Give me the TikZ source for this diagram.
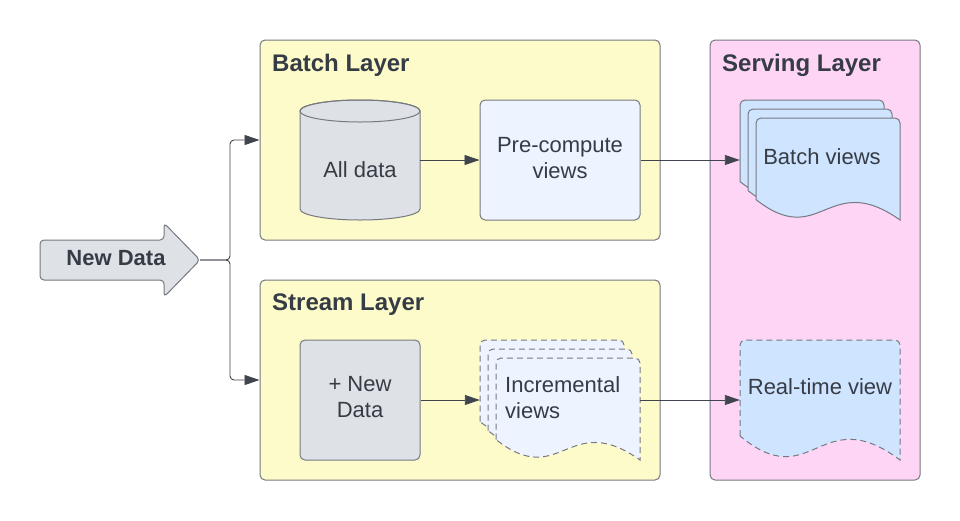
\documentclass[tikz,border=0pt]{standalone}
\usepackage{fontspec}
\setmainfont{Liberation Sans}
\usetikzlibrary{arrows.meta}

\definecolor{textdark}{HTML}{363C45}
\definecolor{linegray}{HTML}{767980}
\definecolor{wiregray}{HTML}{40454D}
\definecolor{layeryellow}{HTML}{FEFBCB}
\definecolor{layerpink}{HTML}{FFD5F6}
\definecolor{shapegray}{HTML}{DEE2E7}
\definecolor{paleblue}{HTML}{EDF4FF}
\definecolor{viewblue}{HTML}{CFE4FF}

\tikzset{
  layer/.style={draw=linegray, line width=1pt, rounded corners=5pt, inner sep=0pt},
  layertitle/.style={anchor=west, inner sep=0pt, text=textdark, font=\bfseries\fontsize{24}{28}\selectfont},
  boxtext/.style={inner sep=0pt, align=center, text=textdark, font=\fontsize{22}{26}\selectfont},
  frame/.style={inner sep=0pt, minimum width=#1},
  link/.style={draw=wiregray, line width=0.9pt, rounded corners=4pt, -{Triangle[length=15pt,width=10pt]}},
  docsolid/.style={draw=linegray, line width=1pt, fill=viewblue},
  docdash/.style={draw=linegray, line width=1pt, dash pattern=on 6pt off 4pt},
}

% document page: style, x, y, width, height (top left corner)
\newcommand{\docpage}[5]{%
  \draw[#1] (#2,#3+0.8*#5) -- (#2,#3+5) arc[start angle=180, end angle=270, radius=5]
    -- (#2+#4-5,#3) arc[start angle=270, end angle=360, radius=5]
    -- (#2+#4,#3+#5) .. controls (#2+0.5*#4,#3+0.5*#5) and (#2+0.45*#4,#3+1.3*#5) .. (#2,#3+0.8*#5) -- cycle;}

\begin{document}
\begin{tikzpicture}[x=1pt, y=-1pt]
	\path[fill=white] (0,0) rectangle (960,520);
	\useasboundingbox (0,0) rectangle (960,520);
	% Layers:
	\node[layer, fill=layeryellow, minimum width=400pt, minimum height=200pt] (batch) at (460,140) {};
	\node[layer, fill=layeryellow, minimum width=400pt, minimum height=200pt] (stream) at (460,380) {};
	\node[layer, fill=layerpink, minimum width=210pt, minimum height=440pt] (serving) at (815,260) {};
	\node[layertitle] (batchtitle) at (272,65) {Batch Layer};
	\node[layertitle] (streamtitle) at (272,305) {Stream Layer};
	\node[layertitle] (servingtitle) at (722,65) {Serving Layer};
	% New data arrow:
	\draw[draw=linegray, line width=1pt, fill=shapegray, rounded corners=4pt]
		(40,240) -- (164,240) -- (164,223) -- (200,260) -- (164,297) -- (164,280) -- (40,280) -- cycle;
	\node[boxtext, font=\bfseries\fontsize{22}{26}\selectfont] (newdata) at (116,258) {New Data};
	\coordinate (newdatatip) at (200,260);
	% Batch layer shapes:
	\draw[draw=linegray, line width=1pt, fill=shapegray] (300,111) -- (300,209)
		arc[start angle=180, end angle=0, x radius=60, y radius=11] -- (420,111)
		arc[start angle=0, end angle=-180, x radius=60, y radius=11] -- cycle;
	\draw[draw=linegray, line width=1pt] (360,111) ellipse[x radius=60, y radius=11];
	\node[frame=120pt, minimum height=120pt] (alldata) at (360,160) {};
	\node[boxtext] (alldatatext) at (360,170) {All data};
	\node[draw=linegray, line width=1pt, fill=paleblue, rounded corners=5pt, frame=160pt, minimum height=120pt] (precompute) at (560,160) {};
	\node[boxtext] (precomputetext) at (560,158) {Pre-compute\\views};
	% Stream layer shapes:
	\node[draw=linegray, line width=1pt, fill=shapegray, rounded corners=5pt, frame=120pt, minimum height=120pt] (plusdata) at (360,400) {};
	\node[boxtext] (plusdatatext) at (360,397) {+ New\\Data};
	\docpage{docdash, fill=paleblue}{480}{340}{144}{102}
	\docpage{docdash, fill=paleblue}{488}{349}{144}{102}
	\docpage{docdash, fill=paleblue}{496}{358}{144}{102}
	\node[frame=160pt, minimum height=120pt] (incviews) at (560,400) {};
	\node[boxtext, anchor=west, align=left] (incviewstext) at (505,398) {Incremental\\views};
	% Serving layer shapes:
	\docpage{docsolid}{740}{100}{144}{102}
	\docpage{docsolid}{748}{109}{144}{102}
	\docpage{docsolid}{756}{118}{144}{102}
	\node[frame=160pt, minimum height=120pt] (batchviews) at (820,160) {};
	\node[boxtext] (batchviewstext) at (822,157) {Batch views};
	\docpage{docdash, fill=viewblue}{740}{340}{160}{120}
	\node[frame=160pt, minimum height=120pt] (rtview) at (820,400) {};
	\node[boxtext] (rtviewtext) at (820,387) {Real-time view};
	% Connectors:
	\draw[link] (newdatatip) -- ++(30,0) |- (batch.west);
	\draw[link] (newdatatip) -- ++(30,0) |- (stream.west);
	\draw[link] (alldata.east) -- (precompute.west);
	\draw[link] (precompute.east) -- (batchviews.west);
	\draw[link] (plusdata.east) -- (incviews.west);
	\draw[link] (incviews.east) -- (rtview.west);
\end{tikzpicture}
\end{document}
